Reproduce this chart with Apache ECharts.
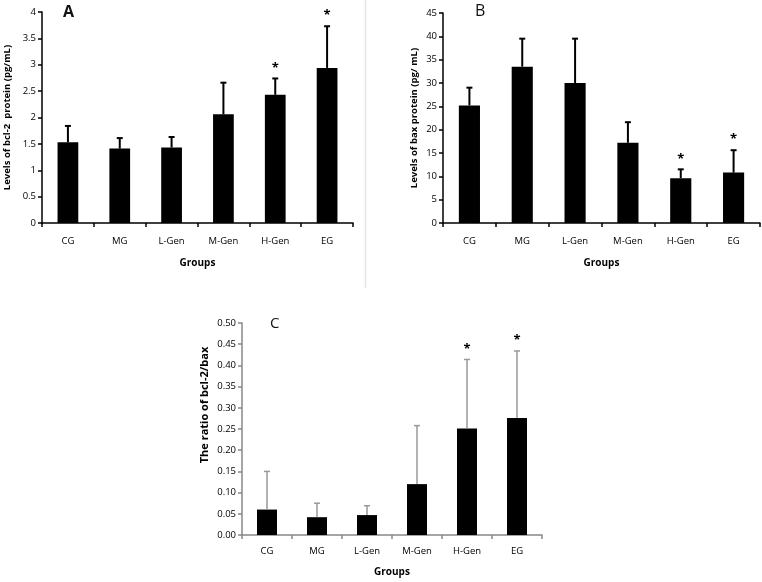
<!DOCTYPE html>
<html>
<head>
<meta charset="utf-8">
<script src="https://cdn.jsdelivr.net/npm/echarts@6/dist/echarts.min.js"></script>
<style>
html,body{margin:0;padding:0;background:#fff;}
#chart{width:762px;height:582px;}
</style>
</head>
<body>
<div id="chart"></div>
<script>
// ---- data ----
const categories = ['CG', 'MG', 'L-Gen', 'M-Gen', 'H-Gen', 'EG'];

const bcl2Mean = [1.53, 1.41, 1.43, 2.06, 2.43, 2.94];
const bcl2Upper = [1.84, 1.61, 1.63, 2.66, 2.74, 3.73];
const bcl2Sig = ['', '', '', '', '*', '*'];

const baxMean = [25.2, 33.5, 30.0, 17.2, 9.6, 10.8];
const baxUpper = [29.0, 39.5, 39.5, 21.6, 11.5, 15.6];
const baxSig = ['', '', '', '', '*', '*'];

const ratioMean = [0.060, 0.042, 0.047, 0.120, 0.251, 0.276];
const ratioUpper = [0.150, 0.075, 0.069, 0.258, 0.414, 0.434];
const ratioSig = ['', '', '', '', '*', '*'];

const FONT = 'Open Sans';

function errData(mean, upper) {
  return mean.map((m, i) => [i, m, upper[i]]);
}
function sigData(upper, sig) {
  return upper.map((u, i) => [i, u, sig[i]]);
}
function errSeries(idx, mean, upper, color, lw, cap) {
  return {
    type: 'custom', xAxisIndex: idx, yAxisIndex: idx, z: 5,
    data: errData(mean, upper),
    renderItem: function (params, api) {
      const p0 = api.coord([api.value(0), api.value(1)]);
      const p1 = api.coord([api.value(0), api.value(2)]);
      const st = { stroke: color, lineWidth: lw };
      return { type: 'group', children: [
        { type: 'line', shape: { x1: p0[0], y1: p0[1], x2: p1[0], y2: p1[1] }, style: st },
        { type: 'line', shape: { x1: p1[0] - cap, y1: p1[1], x2: p1[0] + cap, y2: p1[1] }, style: st }
      ]};
    }
  };
}
function sigSeries(idx, upper, sig) {
  return {
    type: 'custom', xAxisIndex: idx, yAxisIndex: idx, z: 6,
    data: sigData(upper, sig),
    renderItem: function (params, api) {
      const p = api.coord([api.value(0), api.value(1)]);
      const txt = sig[params.dataIndex];
      return { type: 'text', style: { text: txt, x: p[0], y: p[1] - 17, align: 'center', verticalAlign: 'top',
        font: 'bold 13px ' + FONT, fill: '#000' } };
    }
  };
}
function xAx(idx, color, labelMargin, nameGap) {
  return {
    gridIndex: idx, type: 'category', data: categories,
    axisLine: { lineStyle: { color: color, width: 1.5 } },
    axisTick: { show: true, length: 4, alignWithLabel: false, lineStyle: { color: color, width: 1.5 } },
    axisLabel: { color: '#000', fontFamily: FONT, fontSize: 9.5, margin: labelMargin },
    name: 'Groups', nameLocation: 'middle', nameGap: nameGap,
    nameTextStyle: { color: '#000', fontFamily: FONT, fontSize: 10, fontWeight: 'bold' }
  };
}
function yAx(idx, color, max, interval, name, nameGap, fmt) {
  return {
    gridIndex: idx, type: 'value', min: 0, max: max, interval: interval,
    splitLine: { show: false },
    axisLine: { show: true, lineStyle: { color: color, width: 1.5 } },
    axisTick: { show: true, length: 4, lineStyle: { color: color, width: 1.5 } },
    axisLabel: { color: '#000', fontFamily: FONT, fontSize: 9.5, margin: 6, formatter: fmt },
    name: name, nameLocation: 'middle', nameRotate: 90, nameGap: nameGap,
    nameTextStyle: { color: '#000', fontFamily: FONT, fontSize: 9.5, fontWeight: 'bold' }
  };
}

const chart = echarts.init(document.getElementById('chart'), null, { renderer: 'canvas' });
chart.setOption({
  animation: false,
  backgroundColor: '#fff',
  grid: [
    { left: 42, top: 12, width: 311, height: 211 },
    { left: 443, top: 13, width: 317, height: 210 },
    { left: 242, top: 323, width: 300, height: 212 }
  ],
  xAxis: [
    xAx(0, '#000', 13, 35),
    xAx(1, '#000', 13, 35),
    xAx(2, '#888', 11, 32)
  ],
  yAxis: [
    yAx(0, '#000', 4, 0.5, 'Levels of bcl-2  protein (pg/mL)', 30, v => String(v)),
    yAx(1, '#000', 45, 5, 'Levels of bax protein (pg/ mL)', 24, v => String(v)),
    Object.assign(yAx(2, '#888', 0.5, 0.05, '', 36, v => v.toFixed(2)), { name: '' })
  ],
  graphic: [
    { type: 'line', shape: { x1: 365.5, y1: 0, x2: 365.5, y2: 288 }, style: { stroke: '#e6e6e6', lineWidth: 1.5 } },
    { type: 'text', left: 63, top: 4, style: { text: 'A', font: 'bold 16px ' + FONT, fill: '#111' } },
    { type: 'text', left: 475, top: 3, style: { text: 'B', font: '16px ' + FONT, fill: '#111' } },
    { type: 'text', left: 270, top: 316, style: { text: 'C', font: '15px ' + FONT, fill: '#111' } },
    { type: 'text', x: 205, y: 405, rotation: Math.PI / 2,
      style: { text: 'The ratio of bcl-2/bax', font: 'bold 11px ' + FONT, fill: '#000', align: 'center', verticalAlign: 'middle' } }
  ],
  series: [
    { type: 'bar', xAxisIndex: 0, yAxisIndex: 0, data: bcl2Mean, barWidth: '40%', itemStyle: { color: '#000' } },
    errSeries(0, bcl2Mean, bcl2Upper, '#000', 2, 3),
    sigSeries(0, bcl2Upper, bcl2Sig),
    { type: 'bar', xAxisIndex: 1, yAxisIndex: 1, data: baxMean, barWidth: '40%', itemStyle: { color: '#000' } },
    errSeries(1, baxMean, baxUpper, '#000', 2, 3),
    sigSeries(1, baxUpper, baxSig),
    { type: 'bar', xAxisIndex: 2, yAxisIndex: 2, data: ratioMean, barWidth: '40%', itemStyle: { color: '#000' } },
    errSeries(2, ratioMean, ratioUpper, '#999', 1.5, 3),
    sigSeries(2, ratioUpper, ratioSig)
  ]
});
</script>
</body>
</html>
